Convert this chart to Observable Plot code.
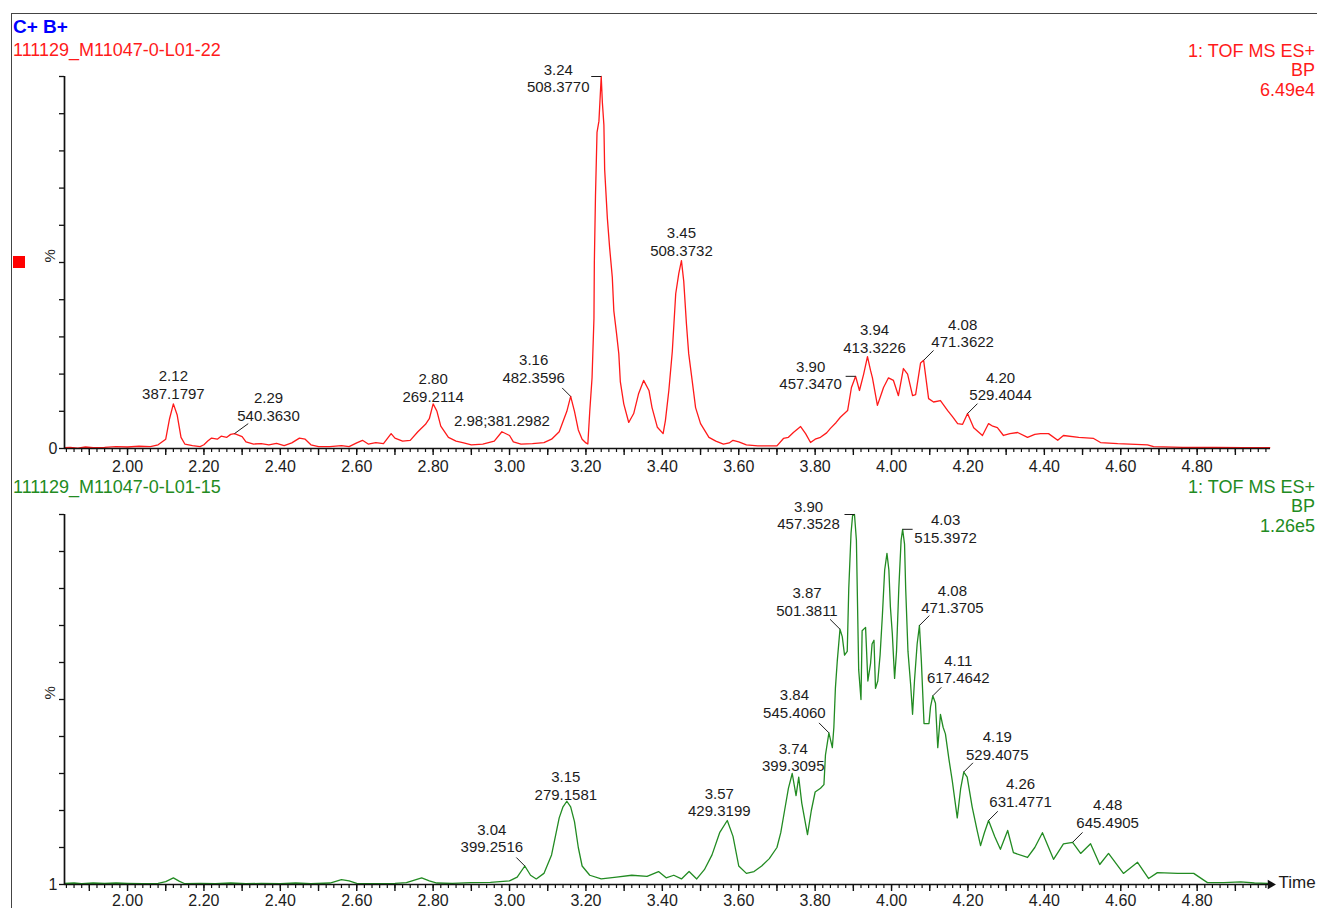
<!DOCTYPE html>
<html><head><meta charset="utf-8">
<script src="https://cdn.jsdelivr.net/npm/d3@7"></script>
<script src="https://cdn.jsdelivr.net/npm/@observablehq/plot@0.6"></script>
<style>
html,body{margin:0;padding:0;background:#fff;overflow:hidden;}
#wrap{position:relative;width:1317px;height:908px;overflow:hidden;font-family:"Liberation Sans",Arial,sans-serif;}
.abs{position:absolute;white-space:nowrap;line-height:1;}
.plotbox{position:absolute;left:0;}
</style></head><body><div id="wrap"></div>
<script>
// ---------------- DATA ----------------
const headerTitle = "C+ B+";
const topSample = "111129_M11047-0-L01-22";
const bottomSample = "111129_M11047-0-L01-15";
const topInfo = ["1: TOF MS ES+", "BP", "6.49e4"];
const bottomInfo = ["1: TOF MS ES+", "BP", "1.26e5"];
const yTitle = "%";
const topYMinLabel = "0";
const bottomYMinLabel = "1";
const xTitle = "Time";
const xTickLabels = ["2.00","2.20","2.40","2.60","2.80","3.00","3.20","3.40","3.60","3.80","4.00","4.20","4.40","4.60","4.80"];
const xDomain = [1.835, 4.992];

// top trace (red): retention time (min) and relative intensity (%)
const topTime = [1.835,1.85,1.87,1.89,1.91,1.94,1.97,2.00,2.03,2.06,2.08,2.10,2.11,2.12,2.13,2.14,2.15,2.17,2.19,2.20,2.21,2.22,2.235,2.245,2.26,2.27,2.28,2.30,2.31,2.33,2.35,2.37,2.39,2.41,2.43,2.45,2.465,2.48,2.50,2.53,2.56,2.58,2.60,2.615,2.63,2.65,2.67,2.69,2.70,2.72,2.74,2.76,2.78,2.79,2.80,2.81,2.82,2.84,2.86,2.88,2.90,2.93,2.96,2.98,3.00,3.01,3.03,3.06,3.09,3.11,3.13,3.15,3.16,3.17,3.18,3.19,3.20,
  3.205,3.210,3.216,3.221,3.222,3.225,3.229,3.234,3.240,3.243,3.247,3.249,3.256,3.262,3.269,3.273,3.280,3.286,3.290,3.299,3.312,3.325,3.338,3.351,3.365,3.373,3.387,3.402,3.408,3.417,3.426,3.435,3.443,3.450,3.456,3.463,3.469,3.478,3.487,3.500,3.522,3.54,3.56,3.575,3.585,3.60,
  3.62,3.65,3.70,3.717,3.73,3.743,3.762,3.775,3.788,3.80,3.814,3.83,3.840,3.855,3.866,3.885,3.895,3.906,3.916,3.927,3.937,3.945,3.950,3.963,3.971,3.979,3.992,4.005,4.018,4.031,4.042,4.055,4.063,4.076,4.084,4.097,4.11,4.128,4.147,4.160,4.173,4.186,4.199,4.215,4.238,4.254,4.265,4.277,4.293,4.310,4.330,4.356,4.375,4.390,4.411,4.435,4.450,4.49,4.529,4.547,4.592,4.670,4.686,4.762,4.85,4.92,4.99];
const topPct = [0.2,0.3,0.1,0.4,0.2,0.3,0.5,0.4,0.6,0.5,1.0,2.5,8,12,9,3,1.2,0.8,0.5,1.0,2.0,2.8,2.5,3.3,3.0,3.8,4.0,3.2,1.8,1.2,1.3,1.0,1.4,0.8,1.5,2.8,2.5,1.0,0.5,0.5,0.8,0.5,1.5,2.2,1.2,1.6,1.3,4.0,2.8,2.0,2.2,4.5,6.5,8,12,10,6,3,2,1.5,1.0,1.2,2.0,4.5,3.5,1.8,1.2,1.3,1.6,2.5,4.5,10,14,10,5,2.5,1.5,
  1.2,10,19,35,50,68,85,88,100,93,87,75,62,54,46,37,31,25.5,18,12,7,9.4,14.8,18.3,15.6,11,5.7,4,7.5,15.6,26,41.6,47,50.5,45,33.6,25.5,18.3,11,6.7,3,2.0,1.2,1.5,2.2,1.8,
  1.0,0.7,0.7,2.7,3.0,4.3,5.9,4,1.6,2.5,3.0,4.2,5.4,7,8.4,10.2,16.4,19.4,15.6,20,24.7,21,19,11.6,14,16.4,19,18.3,14.2,21.5,20,14.2,14.5,23,23.7,13.4,12.5,12.9,10.2,8.5,6.7,6.5,9.4,5.6,3.5,6.7,6,5.6,3.5,4.0,4.3,3.0,3.8,4.0,4.0,2.2,3.5,3.0,2.7,1.6,1.3,1.0,0.5,0.3,0.3,0.2,0.2];

// bottom trace (green)
const bottomTime = [1.835,1.86,1.88,1.91,1.94,1.97,2.00,2.04,2.08,2.10,2.12,2.135,2.15,2.19,2.23,2.27,2.31,2.35,2.40,2.44,2.48,2.53,2.56,2.58,2.60,2.65,2.70,2.73,2.77,2.79,2.81,2.85,2.90,2.95,3.00,3.02,3.04,3.055,3.07,3.09,3.11,3.13,3.14,3.15,3.16,3.17,3.18,3.19,3.21,3.24,3.28,3.32,3.36,3.39,3.41,3.43,3.45,3.47,3.49,3.51,3.53,3.55,3.57,3.585,3.60,3.62,3.64,3.66,3.68,3.70,3.71,3.72,3.73,3.74,3.75,3.757,3.765,3.78,3.79,3.80,
  3.814,3.823,3.827,3.836,3.845,3.849,3.853,3.858,3.865,3.871,3.877,3.884,3.888,3.894,3.898,3.903,3.908,3.914,3.920,3.923,3.932,3.938,3.945,3.949,3.954,3.958,3.964,3.970,3.976,3.982,3.988,3.993,3.997,4.002,4.008,4.013,4.019,4.025,4.029,4.034,4.037,4.043,4.050,4.055,4.060,4.067,4.073,4.078,4.085,4.098,4.102,4.108,4.115,4.121,4.128,4.135,4.141,4.150,4.159,4.172,4.181,4.189,4.198,4.211,4.224,4.233,
  4.243,4.254,4.270,4.285,4.304,4.319,4.356,4.375,4.395,4.424,4.450,4.474,4.495,4.521,4.545,4.568,4.607,4.644,4.673,4.696,4.749,4.791,4.827,4.87,4.914,4.95,4.984];
const bottomPct = [0.3,0.4,0.2,0.4,0.3,0.4,0.3,0.2,0.3,0.8,1.8,0.9,0.2,0.3,0.2,0.4,0.2,0.3,0.2,0.4,0.2,0.4,1.3,1.0,0.3,0.2,0.3,0.5,1.8,1.0,0.4,0.3,0.5,0.6,1.0,2.0,5.0,2.5,1.5,3.0,8,18,21,22.5,21,17,10,5,2.5,1.5,2.0,2.5,2.2,3.5,1.8,2.5,1.5,3.5,1.5,4,8,14,17.3,13,5,3,3.5,5,7,10,14,20,26,30,24,29,22,13.5,20,25,
  26,27,35,41,37,42.5,53,60.5,69,67,62,63,80,95,99.7,100,93,58,50,68.6,69.5,55,59.7,65,66,53,55,62,72.7,85,89.5,85,75,67.8,55.7,63,80,93,96,92,80,63,54,46,55,65,70,60.5,43.5,43.5,48,51,49,37,46,42.5,40.7,34,28,18,26,30.4,29,21,14.6,10.5,
  14,17.3,13,9.5,14.6,8.6,7.3,10,14,6.8,11,11.4,8.4,11,5.4,8.4,3,6,1.6,3.2,3,3,0.5,0.5,0.7,0.4,0.3];
if (topTime.length !== topPct.length || bottomTime.length !== bottomPct.length)
  throw new Error("length mismatch " + [topTime.length, topPct.length, bottomTime.length, bottomPct.length]);

// peak annotations
const topPeakTime = [2.12, 2.28, 2.80, 2.98, 3.16, 3.240, 3.450, 3.906, 3.937, 4.084, 4.199];
const topPeakPct = [12, 4.0, 12, 4.5, 14, 100, 50.5, 19.4, 24.7, 23.7, 9.4];
const topPeakText = ["2.12\n387.1797","2.29\n540.3630","2.80\n269.2114","2.98;381.2982","3.16\n482.3596","3.24\n508.3770","3.45\n508.3732","3.90\n457.3470","3.94\n413.3226","4.08\n471.3622","4.20\n529.4044"];
const bottomPeakTime = [3.04, 3.15, 3.57, 3.74, 3.836, 3.865, 3.903, 4.029, 4.073, 4.108, 4.189, 4.254, 4.474];
const bottomPeakPct = [5, 22.5, 17.3, 30, 41, 69, 100, 96, 70, 51, 30.4, 17.3, 11.4];
const bottomPeakText = ["3.04\n399.2516","3.15\n279.1581","3.57\n429.3199","3.74\n399.3095","3.84\n545.4060","3.87\n501.3811","3.90\n457.3528","4.03\n515.3972","4.08\n471.3705","4.11\n617.4642","4.19\n529.4075","4.26\n631.4771","4.48\n645.4905"];

// ---------------- LAYOUT (label offsets in px, leader [angle, length]) ----------------
const topLabelLayout = [
  {dx:0,dy:-19.5},{dx:34,dy:-27.5,lead:[54,17]},{dx:0,dy:-16.5},{dx:0,dy:-11},
  {dx:-37,dy:-28,lead:[-45,12]},{dx:-43,dy:1.5,lead:[-90,10]},{dx:0,dy:-19},
  {dx:-45,dy:-1.5,lead:[-90,10]},{dx:7,dy:-18.5},{dx:39,dy:-27.5,lead:[45,14]},{dx:33,dy:-27.5,lead:[45,14]}
];
const bottomLabelLayout = [
  {dx:-33,dy:-28,lead:[-45,12]},{dx:-1,dy:-16},{dx:-8,dy:-18.5},{dx:1,dy:-16.5},
  {dx:-34.5,dy:-29.5,lead:[-45,14]},{dx:-33,dy:-28,lead:[-45,14]},{dx:-46,dy:0.5,lead:[-90,10]},
  {dx:43,dy:-1,lead:[90,10]},{dx:33,dy:-26.5,lead:[45,14]},{dx:25.5,dy:-27,lead:[45,12]},
  {dx:33.5,dy:-26.5,lead:[45,13]},{dx:32,dy:-28,lead:[45,13]},{dx:35,dy:-29,lead:[45,14]}
];

const W = 1317;
const RED = "#ff1a1a", GREEN = "#228b22", INK = "#1c1c1c";
const xMinor = d3.range(92, 250).map(i => i / 50);   // every 0.02 from 1.84 to 4.98
const xMid = d3.range(19, 50).map(i => i / 10);      // every 0.1
const xMajor = xTickLabels.map(Number);
const yTicks = d3.range(0, 101, 10);

function chart(cfg) {
  const ml = 64, mr = 47;
  const kx = (W - ml - mr) / (xDomain[1] - xDomain[0]);
  const ky = (cfg.height - cfg.mt - cfg.mb) / 100;
  const data = cfg.t.map((t, i) => ({t, v: cfg.v[i]}));
  const ann = cfg.pt.map((t, i) => Object.assign({t, v: cfg.pv[i], label: cfg.pl[i]}, cfg.layout[i]));
  const marks = [
    Plot.line(data, {x: "t", y: "v", stroke: cfg.color, strokeWidth: 1.3}),
    Plot.ruleY([0], {stroke: "#111", strokeWidth: 1.7}),
    Plot.ruleX([xDomain[0]], {stroke: "#111", strokeWidth: 1.7}),
    Plot.axisX(xMinor, {tickSize: 4, fill: "none", stroke: "#111", strokeWidth: 1.2, label: null}),
    Plot.axisX(xMid, {tickSize: 7, fill: "none", stroke: "#111", strokeWidth: 1.4, label: null}),
    Plot.axisX(xMajor, {tickSize: 0, tickPadding: cfg.labelPad, fontSize: 16, fill: INK, label: null,
      tickFormat: d => xTickLabels[xMajor.indexOf(d)]}),
    Plot.axisY(yTicks, {tickSize: 5, fill: "none", stroke: "#111", strokeWidth: 1.3, label: null}),
    Plot.axisY([0], {tickSize: 0, tickPadding: 7, fontSize: 16, fill: INK, label: null, tickFormat: () => cfg.yMin}),
    Plot.text([yTitle], {text: d => d, frameAnchor: "left", dx: -14, rotate: -90, fontSize: 15, fill: INK})
  ];
  for (const a of ann) {
    marks.push(Plot.text([a], {x: "t", y: "v", text: "label", dx: a.dx, dy: a.dy, lineAnchor: "middle",
      textAnchor: "middle", lineHeight: 1.17, fontSize: 15, fill: INK}));
    if (a.lead) {
      const rad = a.lead[0] * Math.PI / 180, len = a.lead[1];
      marks.push(Plot.link([a], {x1: "t", y1: "v", x2: d => d.t + len * Math.sin(rad) / kx,
        y2: d => d.v + len * Math.cos(rad) / ky, stroke: INK, strokeWidth: 1}));
    }
  }
  if (cfg.arrow) {
    marks.push(Plot.dot([xDomain[1]], {x: d => d, y: 0, symbol: "triangle", rotate: 90, r: 3.5, fill: "#111", stroke: "none"}));
    marks.push(Plot.text([xTitle], {text: d => d, frameAnchor: "bottom-right", dx: 8, dy: 3, textAnchor: "start", fontSize: 17, fill: INK}));
  }
  return Plot.plot({
    width: W, height: cfg.height,
    marginLeft: ml, marginRight: mr, marginTop: cfg.mt, marginBottom: cfg.mb,
    x: {domain: xDomain, label: null},
    y: {domain: [0, 100], label: null},
    style: {fontFamily: '"Liberation Sans", Arial, sans-serif', fontSize: "15px", background: "transparent", overflow: "visible", color: INK},
    marks
  });
}

const wrap = document.getElementById("wrap");
function addText(txt, css) {
  const d = document.createElement("div");
  d.className = "abs";
  d.textContent = txt;
  Object.assign(d.style, css);
  wrap.appendChild(d);
}
// outer frame of the report page
const fr = document.createElement("div");
Object.assign(fr.style, {position: "absolute", left: "11px", top: "13px", width: "2000px", height: "2000px",
  borderLeft: "1.6px solid #444", borderTop: "1.6px solid #444"});
wrap.appendChild(fr);

addText(headerTitle, {left: "13px", top: "17px", fontSize: "19px", fontWeight: "bold", color: "#0000ff"});
addText(topSample, {left: "13px", top: "40.5px", fontSize: "18px", color: RED});
topInfo.forEach((s, i) => addText(s, {right: "2px", top: (41.5 + i * 19.5) + "px", fontSize: "18px", color: RED, textAlign: "right"}));
addText(bottomSample, {left: "13px", top: "478px", fontSize: "18px", color: GREEN});
bottomInfo.forEach((s, i) => addText(s, {right: "2px", top: (478 + i * 19.3) + "px", fontSize: "18px", color: GREEN, textAlign: "right"}));
const sq = document.createElement("div");
Object.assign(sq.style, {position: "absolute", left: "13px", top: "256px", width: "12px", height: "12px", background: "#ff0000"});
wrap.appendChild(sq);

const topChart = chart({t: topTime, v: topPct, color: RED, height: 440, mt: 36, mb: 32, yMin: topYMinLabel, labelPad: 12,
  pt: topPeakTime, pv: topPeakPct, pl: topPeakText, layout: topLabelLayout, arrow: false});
const bottomChart = chart({t: bottomTime, v: bottomPct, color: GREEN, height: 428, mt: 34, mb: 24, yMin: bottomYMinLabel, labelPad: 10,
  pt: bottomPeakTime, pv: bottomPeakPct, pl: bottomPeakText, layout: bottomLabelLayout, arrow: true});
const b1 = document.createElement("div"); b1.className = "plotbox"; b1.style.top = "40px"; b1.appendChild(topChart); wrap.appendChild(b1);
const b2 = document.createElement("div"); b2.className = "plotbox"; b2.style.top = "480px"; b2.appendChild(bottomChart); wrap.appendChild(b2);
</script></body></html>
